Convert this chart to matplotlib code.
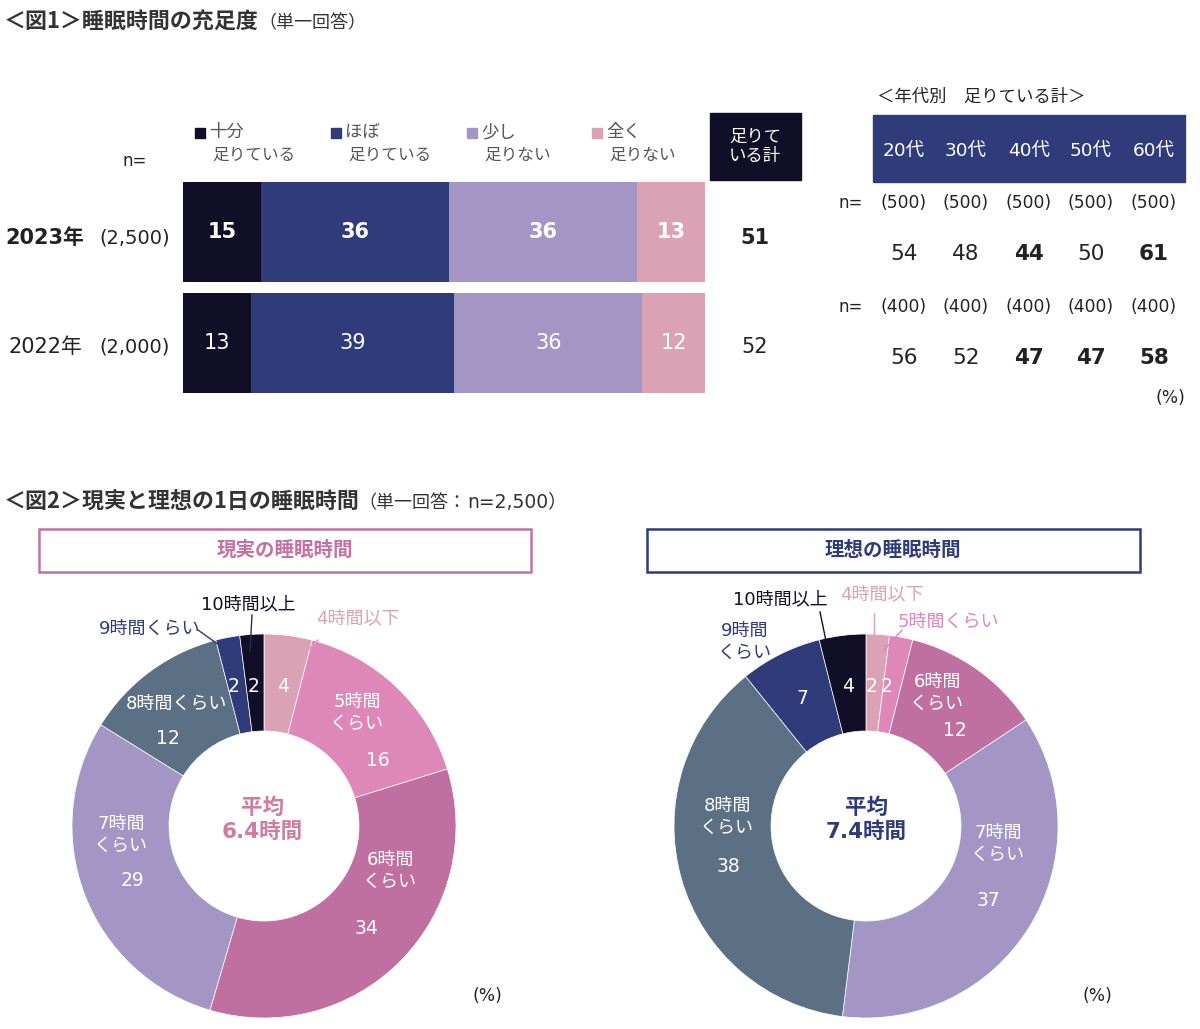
#!/usr/bin/env python3
# -*- coding: utf-8 -*-
## Sleep survey chart: stacked bars + age table + two donuts
import matplotlib
matplotlib.use('Agg')
import matplotlib.pyplot as plt
from matplotlib.patches import Rectangle
import numpy as np

## latin glyphs from DejaVu (wide, Meiryo-like), Japanese from Noto
plt.rcParams['font.family'] = ['DejaVu Sans', 'Noto Sans CJK JP']
JP = ['Noto Sans CJK JP', 'DejaVu Sans']

## ---- data ----
years = ['2023年', '2022年']
year_n = ['(2,500)', '(2,000)']
bar_cats = ['十分\n足りている', 'ほぼ\n足りている', '少し\n足りない', '全く\n足りない']
bar_2023 = [15, 36, 36, 13]
bar_2022 = [13, 39, 36, 12]
enough_total = [51, 52]

ages = ['20代', '30代', '40代', '50代', '60代']
age_n_2023 = [500, 500, 500, 500, 500]
age_val_2023 = [54, 48, 44, 50, 61]
age_bold_2023 = [False, False, True, False, True]
age_n_2022 = [400, 400, 400, 400, 400]
age_val_2022 = [56, 52, 47, 47, 58]
age_bold_2022 = [False, False, True, True, True]

sleep_cats = ['4時間以下', '5時間くらい', '6時間くらい', '7時間くらい', '8時間くらい', '9時間くらい', '10時間以上']
real_vals = [4, 16, 34, 29, 12, 2, 2]
ideal_vals = [2, 2, 12, 37, 38, 7, 4]
real_avg = 6.4
ideal_avg = 7.4

## ---- styles ----
W, H = 1200, 1029
bar_colors = ['#100f27', '#2f3c79', '#a396c5', '#dba2b6']
sleep_colors = ['#dba2b6', '#de88ba', '#c070a0', '#a396c5', '#5b7085', '#2f3c79', '#100f27']
navy = '#2f3c79'
pink_title = '#c471a2'
txt = '#222222'

fig = plt.figure(figsize=(W / 100, H / 100), dpi=100)

def px_axes(x0, y0, x1, y1):
    return fig.add_axes([x0 / W, 1 - y1 / H, (x1 - x0) / W, (y1 - y0) / H])

## ---- stacked bars ----
axb = px_axes(183, 182, 705, 393)
for row, vals in enumerate([bar_2023, bar_2022]):
    left = np.concatenate([[0], np.cumsum(vals)[:-1]])
    axb.barh(row, vals, left=left, height=0.9, color=bar_colors, linewidth=0)
    for v, l in zip(vals, left):
        axb.text(l + v / 2, row, str(v), ha='center', va='center', color='white',
                 fontsize=15, fontweight='bold' if row == 0 else 'normal')
axb.set_xlim(0, 100)
axb.set_ylim(1.45, -0.45)
axb.axis('off')

## ---- donuts ----
def donut(cx, cy, vals):
    ax = px_axes(cx - 200, cy - 200, cx + 200, cy + 200)
    ax.pie(vals, colors=sleep_colors, startangle=90, counterclock=False, radius=192,
           wedgeprops=dict(width=97, edgecolor='white', linewidth=0.5))
    ax.set_xlim(-200, 200)
    ax.set_ylim(-200, 200)
    ax.set_aspect('equal')
    ax.axis('off')
    return ax

donut(264, 826, real_vals)
donut(866, 826, ideal_vals)

## ---- overlay text layer in pixel coords ----
bg = fig.add_axes([0, 0, 1, 1])
bg.set_xlim(0, W)
bg.set_ylim(H, 0)
bg.axis('off')
bg.set_zorder(10)

def t(x, y, s, size=13, color=txt, ha='center', va='center', bold=False, **kw):
    bg.text(x, y, s, fontsize=size, color=color, ha=ha, va=va,
            fontweight='bold' if bold else 'normal', **kw)

# titles
t(4, 21, '＜図1＞睡眠時間の充足度', size=15.8, ha='left', bold=True, color='#333333', family=JP)
t(258, 23, '（単一回答）', size=13, ha='left', color='#333333', family=JP)
t(4, 501, '＜図2＞現実と理想の1日の睡眠時間', size=15.8, ha='left', bold=True, color='#333333', family=JP)
t(358, 503, '（単一回答：', size=13, ha='left', color='#333333', family=JP)
t(467, 503, 'n=2,500）', size=13.5, ha='left', color='#333333')

# legend of the bars
leg_x = [200, 336, 472, 597]
for x, c, lab in zip(leg_x, bar_colors, bar_cats):
    bg.add_patch(Rectangle((x - 5, 128), 10, 10, color=c))
    a, b = lab.split('\n')
    t(x + 9, 132, a, size=12.5, ha='left', color='#555555')
    t(x + 12, 155, b, size=12, ha='left', color='#555555')

t(135, 161, 'n=', size=12)
for i, (yl, nl) in enumerate(zip(years, year_n)):
    yy = 238 + i * 109
    t(45, yy, yl, size=15, bold=(i == 0))
    t(135, yy, nl, size=14)
    t(755, yy, str(enough_total[i]), size=15, bold=(i == 0))

bg.add_patch(Rectangle((710, 113), 91, 67, color='#100f27'))
t(755, 146, '足りて\nいる計', size=12.5, color='white', linespacing=1.1)

# age table
t(877, 97, '＜年代別　足りている計＞', size=12.5, ha='left', family=JP)
bg.add_patch(Rectangle((873, 115), 312, 67, color=navy))
col_x = [904, 966, 1029, 1091, 1154]
for x, a in zip(col_x, ages):
    t(x, 151, a, size=13.3, color='white')
for y_n, y_v, ns, vs, bs in [(203, 254, age_n_2023, age_val_2023, age_bold_2023),
                             (307, 358, age_n_2022, age_val_2022, age_bold_2022)]:
    t(851, y_n, 'n=', size=12)
    for x, n, v, b in zip(col_x, ns, vs, bs):
        t(x, y_n, '(%d)' % n, size=12.3)
        t(x, y_v, str(v), size=15.5, bold=b)
t(1170, 398, '(%)', size=12.3)

# donut title boxes
bg.add_patch(Rectangle((39, 529), 492, 43, fill=False, edgecolor=pink_title, linewidth=1.8))
t(285, 550, '現実の睡眠時間', size=14, bold=True, color=pink_title, family=JP)
bg.add_patch(Rectangle((647, 529), 493, 43, fill=False, edgecolor=navy, linewidth=1.8))
t(893, 550, '理想の睡眠時間', size=14, bold=True, color=navy, family=JP)

# donut centres
t(262, 820, '平均\n%.1f時間' % real_avg, size=15.5, bold=True, color='#d07ba0', linespacing=1.2)
t(866, 820, '平均\n%.1f時間' % ideal_avg, size=15.5, bold=True, color=navy, linespacing=1.2)
t(487, 996, '(%)', size=12.3)
t(1097, 996, '(%)', size=12.3)

# real donut labels: (name pos, number pos, outside colour / None, leader line)
real_lab = [
    ((358, 618), (283, 686), sleep_colors[0], [(318, 640), (306, 652)]),
    ((357, 713), (378, 760), None, None),
    ((390, 871), (366, 928), None, None),
    ((121, 835), (132, 881), None, None),
    ((176, 704), (168, 739), None, None),
    ((150, 629), (234, 686), navy, [(198, 630), (226, 650)]),
    ((248, 604), (254, 686), '#100f27', [(252, 615), (250, 651)]),
]
real_names = ['4時間以下', '5時間\nくらい', '6時間\nくらい', '7時間\nくらい', '8時間くらい', '9時間くらい', '10時間以上']
for name, v, (np_, vp, oc, ln) in zip(real_names, real_vals, real_lab):
    t(np_[0], np_[1], name, size=13, color=oc if oc else 'white', linespacing=1.3)
    t(vp[0], vp[1], str(v), size=13.5, color='white')
    if ln:
        bg.plot([ln[0][0], ln[1][0]], [ln[0][1], ln[1][1]], color=oc if oc != '#100f27' else '#1f3050', lw=1)

ideal_lab = [
    ((882, 594), (872, 686), sleep_colors[0], [(874, 613), (874, 637)]),
    ((948, 622), (887, 686), sleep_colors[1], [(902, 630), (884, 650)]),
    ((937, 693), (955, 731), None, None),
    ((998, 844), (988, 901), None, None),
    ((727, 817), (728, 866), None, None),
    ((745, 642), (802, 699), navy, None),
    ((780, 599), (848, 686), '#100f27', [(820, 612), (826, 641)]),
]
ideal_names = ['4時間以下', '5時間くらい', '6時間\nくらい', '7時間\nくらい', '8時間\nくらい', '9時間\nくらい', '10時間以上']
for name, v, (np_, vp, oc, ln) in zip(ideal_names, ideal_vals, ideal_lab):
    t(np_[0], np_[1], name, size=13, color=oc if oc else 'white', linespacing=1.3)
    t(vp[0], vp[1], str(v), size=13.5, color='white')
    if ln:
        bg.plot([ln[0][0], ln[1][0]], [ln[0][1], ln[1][1]], color=oc, lw=1)

fig.savefig('out.png', dpi=100)
